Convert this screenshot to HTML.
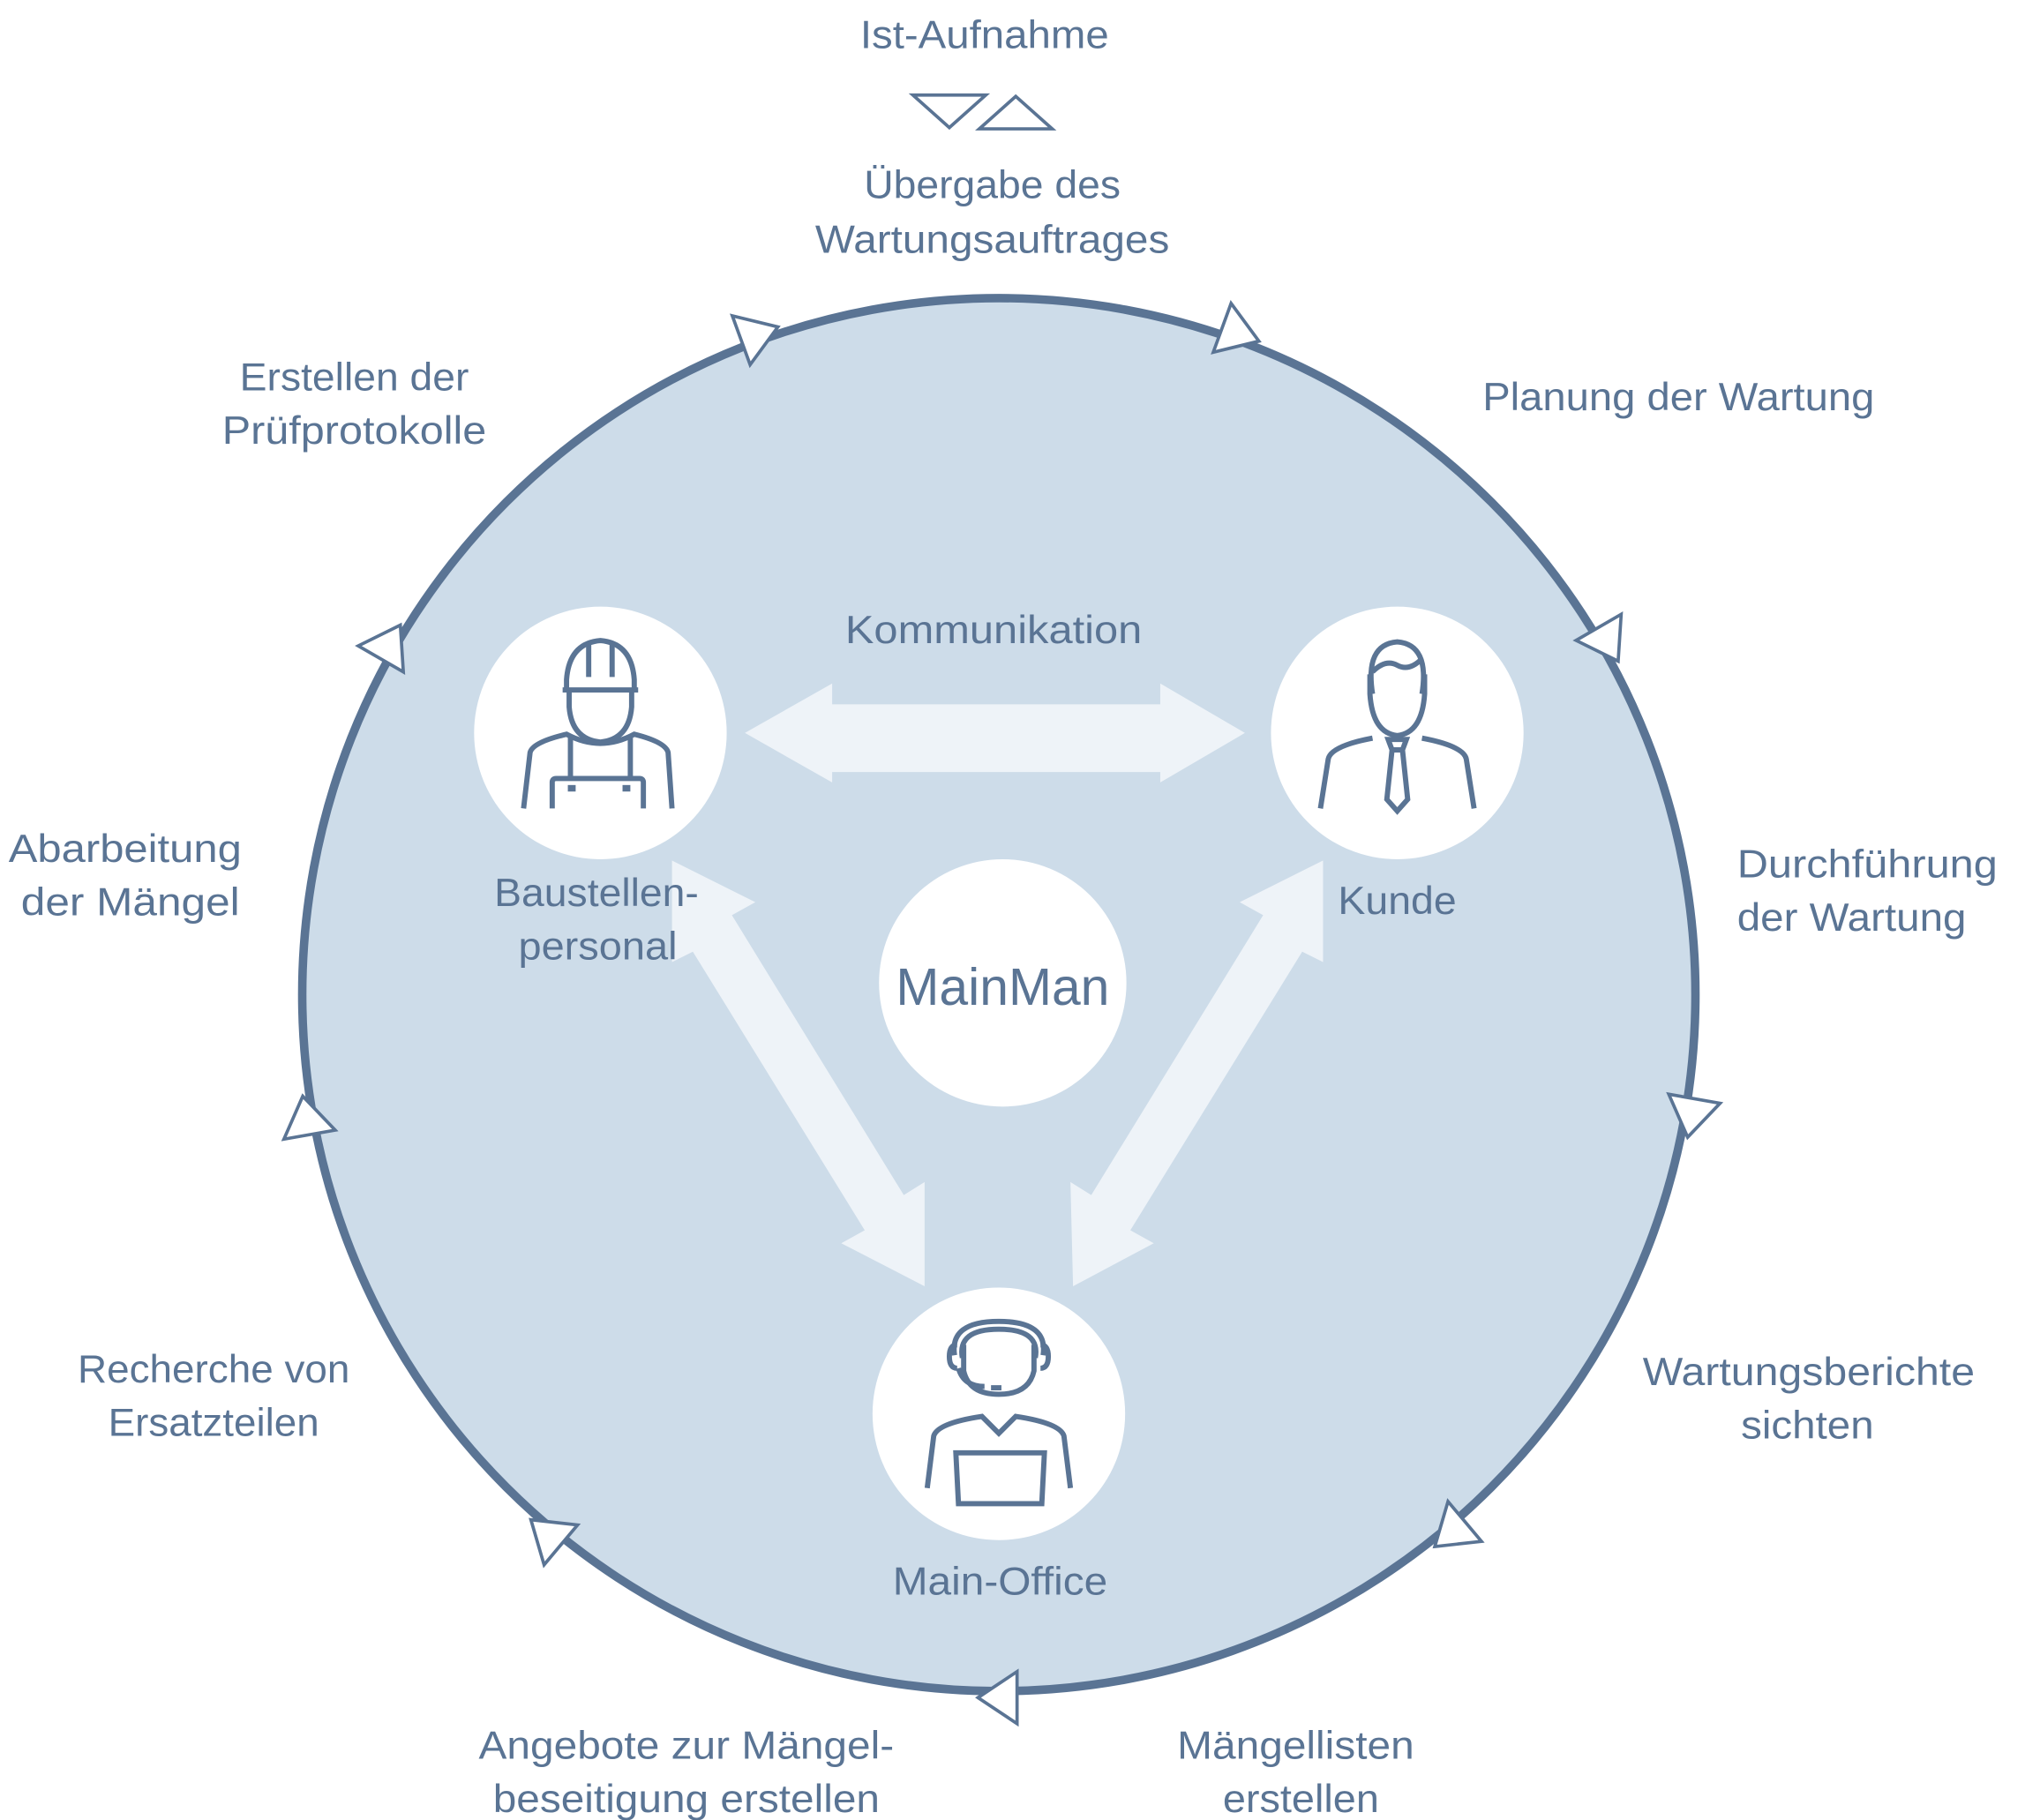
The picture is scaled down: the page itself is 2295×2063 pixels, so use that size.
<!DOCTYPE html>
<html><head><meta charset="utf-8"><style>
html,body{margin:0;padding:0;background:#fff;}
svg{display:block;}
text{font-family:"Liberation Sans","DejaVu Sans",sans-serif;fill:#5a7494;}
</style></head><body>
<svg width="2295" height="2063" viewBox="6 7 1555 1398" xmlns="http://www.w3.org/2000/svg">
<circle cx="773" cy="771" r="535" fill="#cddce9" stroke="#5a7494" stroke-width="6.5"/>
<g fill="#fff" stroke="#5a7494" stroke-width="2.5" stroke-linejoin="miter">
<g transform="translate(773,771) rotate(-110) translate(540,0) rotate(90)"><polygon points="16,0 -14,-20 -14,20"/></g>
<g transform="translate(773,771) rotate(-70) translate(540,0) rotate(90)"><polygon points="16,0 -14,-20 -14,20"/></g>
<g transform="translate(773,771) rotate(-30) translate(540,0) rotate(90)"><polygon points="16,0 -14,-20 -14,20"/></g>
<g transform="translate(773,771) rotate(10) translate(540,0) rotate(90)"><polygon points="16,0 -14,-20 -14,20"/></g>
<g transform="translate(773,771) rotate(50) translate(540,0) rotate(90)"><polygon points="16,0 -14,-20 -14,20"/></g>
<g transform="translate(773,771) rotate(90) translate(540,0) rotate(90)"><polygon points="16,0 -14,-20 -14,20"/></g>
<g transform="translate(773,771) rotate(130) translate(540,0) rotate(90)"><polygon points="16,0 -14,-20 -14,20"/></g>
<g transform="translate(773,771) rotate(170) translate(540,0) rotate(90)"><polygon points="16,0 -14,-20 -14,20"/></g>
<g transform="translate(773,771) rotate(210) translate(540,0) rotate(90)"><polygon points="16,0 -14,-20 -14,20"/></g>
<polygon points="707,80 763,80 735,105"/>
<polygon points="758,106 814,106 786,81"/>
</g>
<g fill="#eef3f8">
<polygon points="578,570 645,532 645,548 897,548 897,532 962,570 897,608 897,600 645,600 645,608"/>
<polygon points="522,668 586,700 568,710 700,925 716,915 716,995 652,962 670,952 538,738 522,746"/>
<polygon points="1022,668 958,700 976,710 844,925 828,915 830,995 892,962 874,952 1006,738 1022,746"/>
</g>
<g fill="#fff">
<circle cx="467" cy="570" r="97"/>
<circle cx="1079" cy="570" r="97"/>
<circle cx="776" cy="762" r="95"/>
<circle cx="773" cy="1093" r="97"/>
</g>
<g fill="none" stroke="#5a7494" stroke-width="4">
<path d="M438,537 h58 M441,537 v-8 q2,-28 26,-30 q24,2 26,30 v8"/>
<path d="M458,502 v25 M476,502 v25"/>
<path d="M443,538 v12 q2,25 24,27 q22,-2 24,-27 v-12"/>
<path d="M408,628 L413,585 q2,-8 28,-14 q26,14 52,0 q24,6 26,14 L522,628"/>
<path d="M444,573 v32 M490,573 v32 M430,628 v-20 q0,-3 3,-3 h64 q3,0 3,3 v20"/>
</g>
<rect x="442" y="610" width="6" height="5" fill="#5a7494"/><rect x="484" y="610" width="6" height="5" fill="#5a7494"/>
<g fill="none" stroke="#5a7494" stroke-width="4">
<path d="M1060,540 q-6,-38 19,-40 q25,2 19,40"/>
<path d="M1060,523 q10,-10 19,-5 q9,5 19,-5"/>
<path d="M1058,525 v15 q2,30 21,32 q19,-2 21,-32 v-15"/>
<path d="M1020,628 L1026,590 q2,-10 34,-16 M1138,628 L1132,590 q-2,-10 -34,-16"/>
<path d="M1072,575 h14 l-3,8 h-8 z M1075,583 l-4,38 l8,9 l8,-9 l-4,-38"/>
</g>
<g fill="none" stroke="#5a7494" stroke-width="4">
<path d="M739,1048 q-4,-26 34,-26 q38,0 34,26"/>
<path d="M745,1050 q-4,-22 28,-22 q32,0 28,22"/>
<path d="M741,1040 q-6,0 -6,9 q0,9 6,9 M805,1040 q6,0 6,9 q0,9 -6,9"/>
<path d="M746,1040 v20 q4,18 27,18 q23,0 27,-18 v-20"/>
<path d="M742,1058 q4,14 20,14 M767,1073 h8"/>
<path d="M718,1150 L723,1110 q3,-10 37,-15 l13,13 l13,-13 q34,5 37,15 L828,1150"/>
<path d="M740,1123 h68 l-2,39 h-64 z"/>
</g>
<g font-size="30" text-anchor="middle" transform="translate(0,5)">
<text x="762" y="39" textLength="191" lengthAdjust="spacingAndGlyphs">Ist-Aufnahme</text>
<text x="768" y="154" textLength="197" lengthAdjust="spacingAndGlyphs">Übergabe des</text>
<text x="768" y="196" textLength="272" lengthAdjust="spacingAndGlyphs">Wartungsauftrages</text>
<text x="278" y="302" textLength="176" lengthAdjust="spacingAndGlyphs">Erstellen der</text>
<text x="278" y="343" textLength="203" lengthAdjust="spacingAndGlyphs">Prüfprotokolle</text>
<text x="1295" y="317" textLength="301" lengthAdjust="spacingAndGlyphs">Planung der Wartung</text>
<text x="769" y="496" textLength="228" lengthAdjust="spacingAndGlyphs">Kommunikation</text>
<text x="102" y="664" textLength="179" lengthAdjust="spacingAndGlyphs">Abarbeitung</text>
<text x="106" y="705" textLength="168" lengthAdjust="spacingAndGlyphs">der  Mängel</text>
<text x="1440" y="676" textLength="200" lengthAdjust="spacingAndGlyphs">Durchführung</text>
<text x="1428" y="717" textLength="176" lengthAdjust="spacingAndGlyphs">der Wartung</text>
<text x="464" y="698" textLength="157" lengthAdjust="spacingAndGlyphs">Baustellen-</text>
<text x="465" y="739" textLength="122" lengthAdjust="spacingAndGlyphs">personal</text>
<text x="1079" y="704" textLength="91" lengthAdjust="spacingAndGlyphs">Kunde</text>
<text x="170" y="1064" textLength="209" lengthAdjust="spacingAndGlyphs">Recherche von</text>
<text x="170" y="1105" textLength="162" lengthAdjust="spacingAndGlyphs">Ersatzteilen</text>
<text x="1395" y="1066" textLength="255" lengthAdjust="spacingAndGlyphs">Wartungsberichte</text>
<text x="1394" y="1107" textLength="102" lengthAdjust="spacingAndGlyphs">sichten</text>
<text x="774" y="1227" textLength="165" lengthAdjust="spacingAndGlyphs">Main-Office</text>
<text x="533" y="1353" textLength="319" lengthAdjust="spacingAndGlyphs">Angebote zur Mängel-</text>
<text x="533" y="1394" textLength="297" lengthAdjust="spacingAndGlyphs">beseitigung erstellen</text>
<text x="1001" y="1353" textLength="182" lengthAdjust="spacingAndGlyphs">Mängellisten</text>
<text x="1005" y="1394" textLength="120" lengthAdjust="spacingAndGlyphs">erstellen</text>
<text x="776" y="774" font-size="40" textLength="164" lengthAdjust="spacingAndGlyphs">MainMan</text>
</g>
</svg>
</body></html>
